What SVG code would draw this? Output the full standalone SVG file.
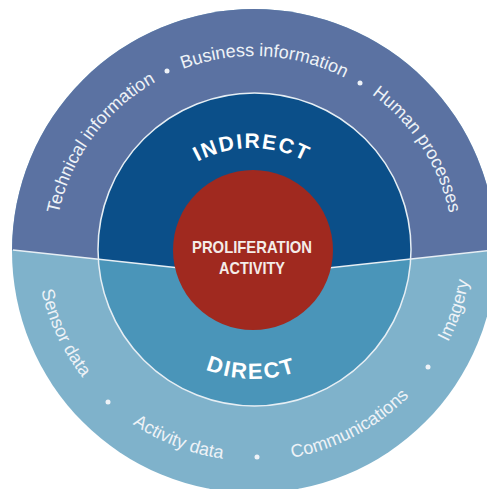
<svg xmlns="http://www.w3.org/2000/svg" width="487" height="489" viewBox="0 0 487 489">
<style>
.ring{font-family:"Liberation Sans",Arial,sans-serif;font-size:18px;fill:#eef2f7}
.big{font-family:"Liberation Sans",Arial,sans-serif;font-size:21px;font-weight:bold;fill:#ffffff;letter-spacing:1.8px}
.core{font-family:"Liberation Sans Narrow","Liberation Sans",Arial,sans-serif;font-size:17px;font-weight:bold;fill:#f4ece8}
.dot{fill:#eef2f7}
.sep{fill:none;stroke:#e6eef4;stroke-width:1.5}
</style>
<defs>
<clipPath id="topClip"><path d="M-10,-10 L500,-10 L500,249.5 L254,276 L-10,247.5 Z"/></clipPath>
<path id="arcTop" d="M54,256 A200,200 0 0 1 454,256"/>
<path id="arcBot" d="M36,243 A218,218 0 0 0 472,243"/>
<path id="arcIn" d="M138,262 A114,114 0 0 1 366,262"/>
<path id="arcDir" d="M125,250 A129,129 0 0 0 383,250"/>
</defs>
<g id="outer-ring">
<circle cx="254" cy="251" r="242" fill="#7fb2cb"/>
<circle cx="254" cy="251" r="242" fill="#5b72a2" clip-path="url(#topClip)"/>
</g>
<g id="middle-ring">
<circle cx="254.5" cy="249.5" r="156.5" fill="#4a95b9"/>
<circle cx="254.5" cy="249.5" r="156.5" fill="#0b4f89" clip-path="url(#topClip)"/>
<circle cx="254.5" cy="249.5" r="156.5" class="sep"/>
</g>
<g id="connectors">
<path class="sep" d="M13,250 L254,276 L495,250"/>
</g>
<g id="core">
<circle cx="253" cy="250" r="80" fill="#a0291f"/>
<text class="core" x="252" y="253" text-anchor="middle" textLength="120" lengthAdjust="spacingAndGlyphs">PROLIFERATION</text>
<text class="core" x="252" y="274" text-anchor="middle" textLength="66" lengthAdjust="spacingAndGlyphs">ACTIVITY</text>
</g>
<g id="indirect">
<text class="big"><textPath href="#arcIn" startOffset="50%" text-anchor="middle">INDIRECT</textPath></text>
</g>
<g id="direct">
<text class="big" style="font-size:22px;letter-spacing:2px"><textPath href="#arcDir" startOffset="49.3%" text-anchor="middle">DIRECT</textPath></text>
</g>
<g id="indirect-sources">
<text class="ring"><textPath href="#arcTop" startOffset="20.2%" text-anchor="middle">Technical information</textPath></text>
<text class="ring"><textPath href="#arcTop" startOffset="51.7%" text-anchor="middle">Business information</textPath></text>
<text class="ring"><textPath href="#arcTop" startOffset="81.6%" text-anchor="middle">Human processes</textPath></text>
<circle class="dot" cx="167" cy="71" r="2.5"/>
<circle class="dot" cx="360" cy="83" r="2.5"/>
</g>
<g id="direct-sources">
<text class="ring"><textPath href="#arcBot" startOffset="14.1%" text-anchor="middle">Sensor data</textPath></text>
<text class="ring"><textPath href="#arcBot" startOffset="38.3%" text-anchor="middle">Activity data</textPath></text>
<text class="ring"><textPath href="#arcBot" startOffset="65.4%" text-anchor="middle">Communications</textPath></text>
<text class="ring"><textPath href="#arcBot" startOffset="89.7%" text-anchor="middle">Imagery</textPath></text>
<circle class="dot" cx="108" cy="402" r="2.5"/>
<circle class="dot" cx="257" cy="457" r="2.5"/>
<circle class="dot" cx="428" cy="367" r="2.5"/>
</g>
</svg>
